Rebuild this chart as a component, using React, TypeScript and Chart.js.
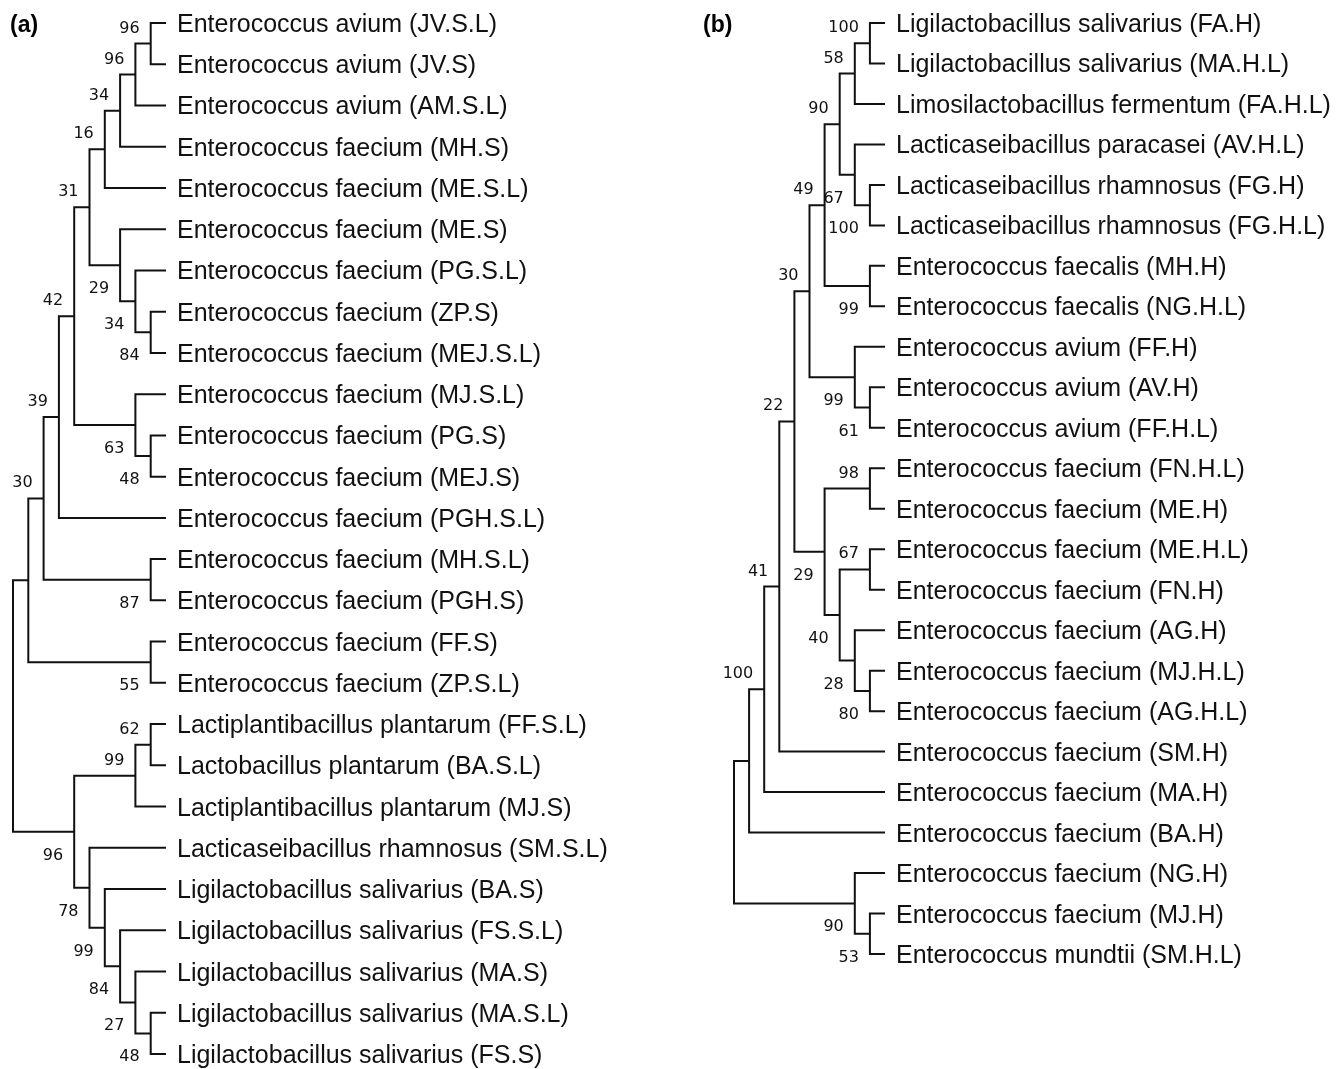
import React, { useEffect, useRef } from "react";
import { Chart, registerables } from "chart.js";

Chart.register(...registerables);

// ---------- Data ----------
const panelTitles = ["(a)", "(b)"];

const leavesA = [
  "Enterococcus avium (JV.S.L)",
  "Enterococcus avium (JV.S)",
  "Enterococcus avium (AM.S.L)",
  "Enterococcus faecium (MH.S)",
  "Enterococcus faecium (ME.S.L)",
  "Enterococcus faecium (ME.S)",
  "Enterococcus faecium (PG.S.L)",
  "Enterococcus faecium (ZP.S)",
  "Enterococcus faecium (MEJ.S.L)",
  "Enterococcus faecium (MJ.S.L)",
  "Enterococcus faecium (PG.S)",
  "Enterococcus faecium (MEJ.S)",
  "Enterococcus faecium (PGH.S.L)",
  "Enterococcus faecium (MH.S.L)",
  "Enterococcus faecium (PGH.S)",
  "Enterococcus faecium (FF.S)",
  "Enterococcus faecium (ZP.S.L)",
  "Lactiplantibacillus plantarum (FF.S.L)",
  "Lactobacillus plantarum (BA.S.L)",
  "Lactiplantibacillus plantarum (MJ.S)",
  "Lacticaseibacillus rhamnosus (SM.S.L)",
  "Ligilactobacillus salivarius (BA.S)",
  "Ligilactobacillus salivarius (FS.S.L)",
  "Ligilactobacillus salivarius (MA.S)",
  "Ligilactobacillus salivarius (MA.S.L)",
  "Ligilactobacillus salivarius (FS.S)",
];

// [node id, depth (topology level), upper child, lower child, bootstrap]
// children: string = internal node id, number = leaf index
type Kid = string | number;
type NodeRow = [string, number, Kid, Kid, number | null];

const nodesA: NodeRow[] = [
  ["root", 0, "A", "L", null],
  ["A", 1, "B", "n55", null],
  ["B", 2, "C", "n87", 30],
  ["n87", 9, 13, 14, 87],
  ["n55", 9, 15, 16, 55],
  ["C", 3, "D", 12, 39],
  ["D", 4, "E", "F", 42],
  ["F", 8, 9, "G", 63],
  ["G", 9, 10, 11, 48],
  ["E", 5, "H", "I", 31],
  ["H", 6, "J", 4, 16],
  ["J", 7, "K", 3, 34],
  ["K", 8, "M", 2, 96],
  ["M", 9, 0, 1, 96],
  ["I", 7, 5, "N", 29],
  ["N", 8, 6, "O", 34],
  ["O", 9, 7, 8, 84],
  ["L", 4, "P", "Q", 96],
  ["P", 8, "R", 19, 99],
  ["R", 9, 17, 18, 62],
  ["Q", 5, 20, "S", 78],
  ["S", 6, 21, "T", 99],
  ["T", 7, 22, "U", 84],
  ["U", 8, 23, "V", 27],
  ["V", 9, 24, 25, 48],
];

const leavesB = [
  "Ligilactobacillus salivarius (FA.H)",
  "Ligilactobacillus salivarius (MA.H.L)",
  "Limosilactobacillus fermentum (FA.H.L)",
  "Lacticaseibacillus paracasei (AV.H.L)",
  "Lacticaseibacillus rhamnosus (FG.H)",
  "Lacticaseibacillus rhamnosus (FG.H.L)",
  "Enterococcus faecalis (MH.H)",
  "Enterococcus faecalis (NG.H.L)",
  "Enterococcus avium (FF.H)",
  "Enterococcus avium (AV.H)",
  "Enterococcus avium (FF.H.L)",
  "Enterococcus faecium (FN.H.L)",
  "Enterococcus faecium (ME.H)",
  "Enterococcus faecium (ME.H.L)",
  "Enterococcus faecium (FN.H)",
  "Enterococcus faecium (AG.H)",
  "Enterococcus faecium (MJ.H.L)",
  "Enterococcus faecium (AG.H.L)",
  "Enterococcus faecium (SM.H)",
  "Enterococcus faecium (MA.H)",
  "Enterococcus faecium (BA.H)",
  "Enterococcus faecium (NG.H)",
  "Enterococcus faecium (MJ.H)",
  "Enterococcus mundtii (SM.H.L)",
];

const nodesB: NodeRow[] = [
  ["root", 0, "W", "X", null],
  ["W", 1, "Z", 20, null],
  ["Z", 2, "AA", 19, 100],
  ["AA", 3, "AB", 18, 41],
  ["AB", 4, "AC", "AD", 22],
  ["AC", 5, "AE", "AF", 30],
  ["AE", 6, "AH", "AI", 49],
  ["AH", 7, "AJ", "AK", 90],
  ["AJ", 8, "AL", 2, 58],
  ["AL", 9, 0, 1, 100],
  ["AK", 8, 3, "AM", 67],
  ["AM", 9, 4, 5, 100],
  ["AI", 9, 6, 7, 99],
  ["AF", 8, 8, "AG", 99],
  ["AG", 9, 9, 10, 61],
  ["AD", 6, "AN", "AO", 29],
  ["AN", 9, 11, 12, 98],
  ["AO", 7, "AP", "AQ", 40],
  ["AP", 9, 13, 14, 67],
  ["AQ", 8, 15, "AR", 28],
  ["AR", 9, 16, 17, 80],
  ["X", 8, 21, "Y", 90],
  ["Y", 9, 22, 23, 53],
];

const LEAF_DEPTH = 10;

// ---------- Layout / style ----------
const LINE_COLOR = "#111";
const TEXT_COLOR = "#111";
const LEAF_FONT = '25px "Liberation Sans", Arial, sans-serif';
const BOOT_FONT = '16px "DejaVu Sans", Verdana, sans-serif';
const TITLE_FONT = 'bold 23px "Liberation Sans", Arial, sans-serif';

type PanelCfg = {
  title: string;
  leaves: string[];
  nodes: NodeRow[];
  width: number;
  height: number;
  padding: { left: number; right: number; top: number; bottom: number };
  titleX: number;
};

function layoutTree(nodes: NodeRow[]) {
  const byId: Record<string, NodeRow> = {};
  nodes.forEach((n) => (byId[n[0]] = n));
  const pos: Record<string, { x: number; y: number }> = {};
  const upperSet = new Set<string>();
  nodes.forEach((n) => {
    if (typeof n[2] === "string") upperSet.add(n[2]);
  });
  const get = (k: Kid): { x: number; y: number } => {
    if (typeof k === "number") return { x: LEAF_DEPTH, y: k };
    if (pos[k]) return pos[k];
    const n = byId[k];
    const a = get(n[2]);
    const b = get(n[3]);
    pos[k] = { x: n[1], y: (a.y + b.y) / 2 };
    return pos[k];
  };
  nodes.forEach((n) => get(n[0]));
  return { pos, get, upperSet };
}

function TreePanel({ cfg }: { cfg: PanelCfg }) {
  const ref = useRef<HTMLCanvasElement | null>(null);
  useEffect(() => {
    if (!ref.current) return;
    const { get, pos, upperSet } = layoutTree(cfg.nodes);
    const datasets = cfg.nodes.map((n) => {
      const a = get(n[2]);
      const b = get(n[3]);
      return {
        data: [
          { x: a.x, y: a.y },
          { x: n[1], y: a.y },
          { x: n[1], y: b.y },
          { x: b.x, y: b.y },
        ],
        showLine: true,
        borderColor: LINE_COLOR,
        borderWidth: 2,
        pointRadius: 0,
        tension: 0,
        borderJoinStyle: "miter" as const,
        clip: false as any,
      };
    });

    const textPlugin = {
      id: "treeText",
      afterDraw(chart: any) {
        const ctx = chart.ctx as CanvasRenderingContext2D;
        const xs = chart.scales.x;
        const ys = chart.scales.y;
        ctx.save();
        ctx.fillStyle = TEXT_COLOR;
        ctx.textBaseline = "alphabetic";
        // leaf names
        ctx.font = LEAF_FONT;
        ctx.textAlign = "left";
        cfg.leaves.forEach((name, i) => {
          ctx.fillText(name, xs.getPixelForValue(LEAF_DEPTH) + 11, ys.getPixelForValue(i) + 9);
        });
        // bootstrap values
        ctx.font = BOOT_FONT;
        ctx.textAlign = "right";
        cfg.nodes.forEach((n) => {
          if (n[4] == null) return;
          const p = pos[n[0]];
          const px = xs.getPixelForValue(p.x) - 11;
          const py = ys.getPixelForValue(p.y) + (upperSet.has(n[0]) ? -11 : 28);
          ctx.fillText(String(n[4]), px, py);
        });
        // panel title
        ctx.font = TITLE_FONT;
        ctx.textAlign = "left";
        ctx.fillStyle = "#000";
        ctx.fillText(cfg.title, cfg.titleX, 32);
        ctx.restore();
      },
    };

    const chart = new Chart(ref.current, {
      type: "scatter",
      data: { datasets: datasets as any },
      options: {
        responsive: false,
        animation: false,
        events: [],
        layout: { padding: cfg.padding },
        scales: {
          x: { type: "linear", min: 0, max: LEAF_DEPTH, display: false },
          y: { type: "linear", min: 0, max: cfg.leaves.length - 1, reverse: true, display: false },
        },
        plugins: {
          legend: { display: false },
          tooltip: { enabled: false },
        },
        elements: { point: { radius: 0 } },
      },
      plugins: [textPlugin],
    });
    return () => chart.destroy();
  }, [cfg]);
  return (
    <canvas
      ref={ref}
      width={cfg.width}
      height={cfg.height}
      style={{ display: "block", width: cfg.width, height: cfg.height }}
    />
  );
}

const panelA: PanelCfg = {
  title: panelTitles[0],
  leaves: leavesA,
  nodes: nodesA,
  width: 669,
  height: 1069,
  padding: { left: 13, right: 503, top: 23, bottom: 15 },
  titleX: 10,
};

const panelB: PanelCfg = {
  title: panelTitles[1],
  leaves: leavesB,
  nodes: nodesB,
  width: 670,
  height: 1069,
  padding: { left: 65, right: 454, top: 23, bottom: 115 },
  titleX: 34,
};

export default function App() {
  useEffect(() => {
    document.body.style.margin = "0";
    document.body.style.background = "#fff";
  }, []);
  return (
    <div style={{ display: "flex", width: 1339, height: 1069, background: "#fff" }}>
      <TreePanel cfg={panelA} />
      <TreePanel cfg={panelB} />
    </div>
  );
}
